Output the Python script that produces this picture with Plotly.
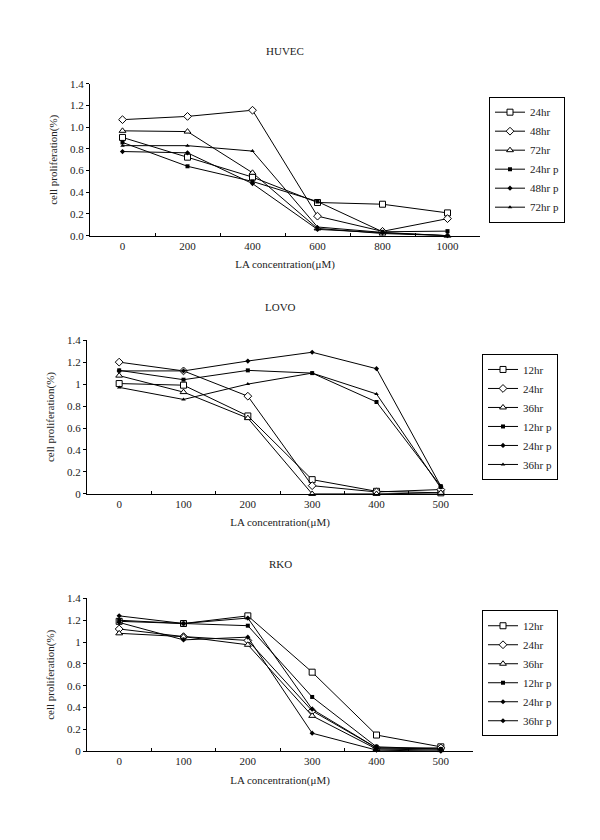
import plotly.graph_objects as go

# ---------------- data ----------------
huvec_x = ["0", "200", "400", "600", "800", "1000"]
huvec_names = ["24hr", "48hr", "72hr", "24hr p", "48hr p", "72hr p"]
huvec_24 = [0.906, 0.724, 0.54, 0.306, 0.29, 0.21]
huvec_48 = [1.07, 1.10, 1.157, 0.18, 0.04, 0.157]
huvec_72 = [0.967, 0.96, 0.58, 0.067, 0.02, 0.0]
huvec_24p = [0.86, 0.64, 0.50, 0.315, 0.036, 0.042]
huvec_48p = [0.776, 0.764, 0.48, 0.058, 0.027, 0.0]
huvec_72p = [0.83, 0.83, 0.78, 0.08, 0.03, 0.0]

lovo_x = ["0", "100", "200", "300", "400", "500"]
lovo_names = ["12hr", "24hr", "36hr", "12hr p", "24hr p", "36hr p"]
lovo_12 = [1.005, 0.99, 0.71, 0.13, 0.024, 0.01]
lovo_24 = [1.20, 1.12, 0.89, 0.075, 0.018, 0.04]
lovo_36 = [1.077, 0.927, 0.69, 0.0, 0.0, 0.01]
lovo_12p = [1.125, 1.04, 1.125, 1.10, 0.837, 0.07]
lovo_24p = [1.12, 1.12, 1.21, 1.29, 1.14, 0.07]
lovo_36p = [0.97, 0.86, 1.0, 1.10, 0.91, 0.054]

rko_x = ["0", "100", "200", "300", "400", "500"]
rko_names = ["12hr", "24hr", "36hr", "12hr p", "24hr p", "36hr p"]
rko_12 = [1.19, 1.17, 1.24, 0.724, 0.148, 0.04]
rko_24 = [1.12, 1.05, 1.015, 0.37, 0.03, 0.03]
rko_36 = [1.08, 1.05, 0.975, 0.324, 0.02, 0.01]
rko_12p = [1.20, 1.17, 1.15, 0.497, 0.04, 0.02]
rko_24p = [1.24, 1.17, 1.22, 0.385, 0.03, 0.02]
rko_36p = [1.18, 1.02, 1.045, 0.165, 0.01, 0.0]

x_title = "LA concentration(μM)"
y_title = "cell proliferation(%)"
y_ticks = [0, 0.2, 0.4, 0.6, 0.8, 1.0, 1.2, 1.4]

FONT = "Liberation Serif"
TXT = "#222222"
FS = 11

fig = go.Figure()

OPEN = dict(color="white", line=dict(color="black", width=1))
marker_styles_1 = [
    dict(symbol="square", size=6, **OPEN),
    dict(symbol="diamond", size=6, **OPEN),
    dict(symbol="triangle-up", size=6, **OPEN),
    dict(symbol="square", size=4, color="black"),
    dict(symbol="diamond", size=4, color="black"),
    dict(symbol="triangle-up", size=4, color="black"),
]
marker_styles_rko = marker_styles_1[:4] + [
    dict(symbol="diamond", size=4, color="black"),
    dict(symbol="diamond", size=4, color="black"),
]

panels = [
    (huvec_x, huvec_names, [huvec_24, huvec_48, huvec_72, huvec_24p, huvec_48p, huvec_72p], marker_styles_1, "x", "y", "legend"),
    (lovo_x, lovo_names, [lovo_12, lovo_24, lovo_36, lovo_12p, lovo_24p, lovo_36p], marker_styles_1, "x2", "y2", "legend2"),
    (rko_x, rko_names, [rko_12, rko_24, rko_36, rko_12p, rko_24p, rko_36p], marker_styles_rko, "x3", "y3", "legend3"),
]

for xs, names, series, mstyles, xa, ya, lg in panels:
    for name, vals, ms in zip(names, series, mstyles):
        fig.add_trace(go.Scatter(
            x=xs, y=vals, name=name, mode="lines+markers",
            line=dict(color="black", width=1), marker=ms,
            xaxis=xa, yaxis=ya, legend=lg, cliponaxis=False,
        ))

# geometry (pixels -> paper)
W, H = 600, 840
def px_x(p): return p / W
def px_y(p): return 1 - p / H

geo = [
    # left, right, top, bottom, title, title_y, legend_left, legend_top, fmt
    (90, 480, 79, 233, "HUVEC", 46, 489, 92, ".1f"),
    (87, 473, 339, 495, "LOVO", 305, 482, 353, ""),
    (87, 473, 601, 756, "RKO", 566, 482, 613, ""),
]

layout = dict(
    width=W, height=H, margin=dict(l=0, r=0, t=0, b=0),
    paper_bgcolor="white", plot_bgcolor="white",
    font=dict(family=FONT, size=FS, color=TXT),
    showlegend=True,
)
annotations = []
for i, (l, r, t, b, title, ty, lgx, lgy, fmt) in enumerate(geo):
    sfx = "" if i == 0 else str(i + 1)
    layout["xaxis" + sfx] = dict(
        domain=[px_x(l), px_x(r)], anchor="y" + sfx, type="category",
        range=[-0.5, 5.5], tickson="boundaries", ticks="inside", ticklen=3,
        tickcolor="black", showline=True, linecolor="black", linewidth=1,
        showgrid=False, zeroline=False,
        tickfont=dict(size=FS, family=FONT, color=TXT),
        title=dict(text=x_title, font=dict(size=FS, family=FONT, color=TXT), standoff=9),
    )
    layout["yaxis" + sfx] = dict(
        domain=[px_y(b), px_y(t)], anchor="x" + sfx, range=[0, 1.4],
        tickvals=y_ticks, tickformat=fmt, ticks="outside", ticklen=3,
        tickcolor="black", showline=True, linecolor="black", linewidth=1,
        showgrid=False, zeroline=False,
        tickfont=dict(size=FS, family=FONT, color=TXT),
        title=dict(text=y_title, font=dict(size=FS, family=FONT, color=TXT), standoff=10),
    )
    layout["legend" + sfx] = dict(
        x=px_x(lgx), y=px_y(lgy), xanchor="left", yanchor="top",
        bordercolor="black", borderwidth=1, bgcolor="white",
        font=dict(size=FS, family=FONT, color=TXT), itemwidth=30,
        tracegroupgap=0,
    )
    annotations.append(dict(
        text=title, x=px_x((l + r) / 2), y=px_y(ty), xref="paper", yref="paper",
        showarrow=False, xanchor="center", yanchor="middle",
        font=dict(size=FS, family=FONT, color=TXT),
    ))
layout["annotations"] = annotations
fig.update_layout(**layout)

fig.write_html("out.html", config={"displayModeBar": False},
               post_script="document.body.style.margin='0';")
